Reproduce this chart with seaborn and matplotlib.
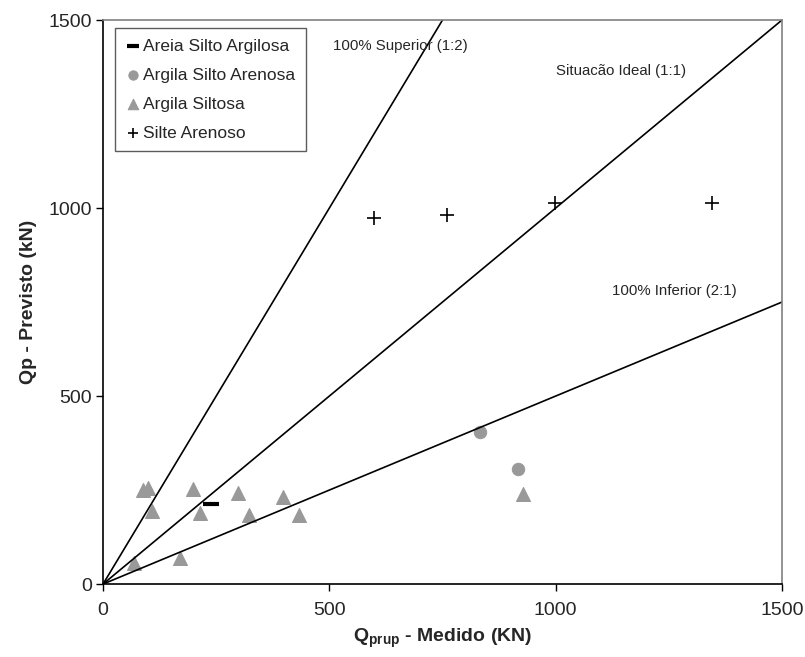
import matplotlib
matplotlib.use("Agg")
from matplotlib import pyplot as plt
import seaborn as sns
import pandas as pd
import numpy as np

# dados (medido x previsto, kN)
areia_x = [239]
areia_y = [213]
argila_arenosa_x = [833, 917]
argila_arenosa_y = [405, 306]
argila_siltosa_x = [69, 89, 100, 109, 169, 198, 214, 299, 323, 398, 433, 928]
argila_siltosa_y = [57, 250, 255, 195, 70, 253, 188, 241, 184, 232, 183, 240]
silte_x = [599, 760, 998, 1346]
silte_y = [973, 981, 1013, 1013]

linhas_x = [0, 1500]
rotulos = ["100% Superior (1:2)", "Situacão Ideal (1:1)", "100% Inferior (2:1)"]
inclinacoes = [2.0, 1.0, 0.5]
ticks = [0, 500, 1000, 1500]

sns.set_theme(style="white")
plt.rcParams["font.family"] = ["Liberation Sans", "DejaVu Sans"]
plt.rcParams["mathtext.fontset"] = "custom"
plt.rcParams["mathtext.rm"] = "Liberation Sans"
plt.rcParams["mathtext.bf"] = "Liberation Sans:bold"

fig = plt.figure(figsize=(8.05, 6.57), dpi=100)
ax = fig.add_axes([0.128, 0.111, 0.8434, 0.8585])

for m in inclinacoes:
    sns.lineplot(x=linhas_x, y=[v * m for v in linhas_x], ax=ax, color="black",
                 linewidth=1.2, legend=False)

cinza = "#999999"
sns.scatterplot(x=areia_x, y=areia_y, ax=ax, marker="_", s=130, color="black",
                linewidth=3, label="Areia Silto Argilosa")
sns.scatterplot(x=argila_arenosa_x, y=argila_arenosa_y, ax=ax, marker="o", s=80,
                color=cinza, edgecolor=cinza, label="Argila Silto Arenosa")
sns.scatterplot(x=argila_siltosa_x, y=argila_siltosa_y, ax=ax, marker="^", s=100,
                color=cinza, edgecolor=cinza, label="Argila Siltosa")
sns.scatterplot(x=silte_x, y=silte_y, ax=ax, marker="+", s=90, color="black",
                linewidth=1.2, label="Silte Arenoso")

ax.text(508, 1431, rotulos[0], fontsize=10.8, va="center")
ax.text(1000, 1364, rotulos[1], fontsize=10.8, va="center")
ax.text(1124, 779, rotulos[2], fontsize=10.8, va="center")

ax.set_xlim(0, 1500)
ax.set_ylim(0, 1500)
ax.set_xticks(ticks)
ax.set_yticks(ticks)
ax.tick_params(axis="both", labelsize=14, direction="out", length=5, width=1,
               color="black", left=True, bottom=True)
ax.tick_params(axis="x", pad=8)
ax.tick_params(axis="y", pad=3)
for lado in ["left", "bottom"]:
    ax.spines[lado].set_color("black")
    ax.spines[lado].set_linewidth(1.2)
for lado in ["top", "right"]:
    ax.spines[lado].set_color("#808080")
    ax.spines[lado].set_linewidth(1.2)

ax.set_xlabel(r"$\mathbf{Q}_{\mathbf{prup}}$ - Medido (KN)", fontsize=14,
              fontweight="bold", labelpad=5)
ax.set_ylabel("Qp - Previsto (kN)", fontsize=14, fontweight="bold", labelpad=8)

leg = ax.legend(loc="upper left", bbox_to_anchor=(0.018, 0.986), fontsize=12.5,
                frameon=True, fancybox=False, handletextpad=0.1,
                handlelength=0.9, borderpad=0.6, labelspacing=0.8,
                markerscale=0.75, borderaxespad=0)
leg.get_frame().set_edgecolor("#333333")
leg.get_frame().set_linewidth(1.0)

fig.savefig("out.png", dpi=100)
